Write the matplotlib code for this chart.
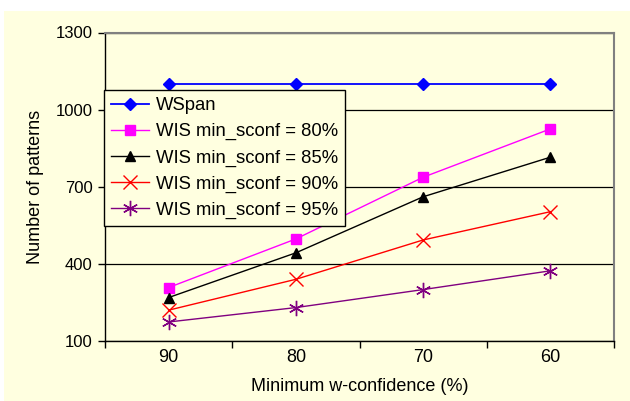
import matplotlib
matplotlib.use('Agg')
import matplotlib.pyplot as plt
from matplotlib.patches import Rectangle
import numpy as np

plt.rcParams['font.family'] = ['Liberation Sans', 'DejaVu Sans']

# Data
categories = ['90', '80', '70', '60']
wspan = [1100, 1100, 1100, 1100]
wis_80 = [308, 497, 737, 925]
wis_85 = [269, 443, 661, 815]
wis_90 = [220, 340, 493, 603]
wis_95 = [174, 230, 300, 373]

BG = '#FFFFE0'

fig = plt.figure(figsize=(6.3, 4.01), dpi=100)
fig.patch.set_facecolor('white')
# chart area background (slightly inset from image edge)
fig.patches.append(Rectangle((4 / 630, 0), 626 / 630, 390 / 401, transform=fig.transFigure,
                             facecolor=BG, edgecolor='none', zorder=-10))

ax = fig.add_axes([105 / 630, 60 / 401, 509 / 630, 308.5 / 401])
ax.set_facecolor(BG)

x = np.arange(len(categories))
ax.plot(x, wspan, color='#0000FF', marker='D', markersize=6.5, lw=1.3, label='WSpan')
ax.plot(x, wis_80, color='#FF00FF', marker='s', markersize=7, lw=1.0, label='WIS min_sconf = 80%')
ax.plot(x, wis_85, color='black', marker='^', markersize=7.5, lw=1.0, label='WIS min_sconf = 85%')
ax.plot(x, wis_90, color='#FF0000', marker='x', markersize=10, mew=1.0, lw=1.0, label='WIS min_sconf = 90%')
ax.plot(x, wis_95, color='#800080', marker=(6, 2, 0), markersize=11, mew=1.0, lw=1.0, label='WIS min_sconf = 95%')

ax.set_xlim(-0.5, len(categories) - 0.5)
ax.set_ylim(100, 1300)
ax.set_yticks([100, 400, 700, 1000, 1300])
ax.set_xticks(x)
ax.set_xticklabels(categories)
ax.set_xticks(np.arange(len(categories) + 1) - 0.5, minor=True)
ax.tick_params(axis='x', which='major', length=0, labelsize=13, pad=6)
ax.tick_params(axis='x', which='minor', length=5, width=1, direction='out')
ax.tick_params(axis='y', length=5, width=1, direction='out', labelsize=12, pad=4)

ax.yaxis.grid(True, color='black', lw=0.9)
ax.set_axisbelow(True)
for side in ['top', 'right']:
    ax.spines[side].set_color('#808080')
    ax.spines[side].set_linewidth(1.5)
for side in ['left', 'bottom']:
    ax.spines[side].set_color('black')
    ax.spines[side].set_linewidth(1.0)

ax.set_xlabel('Minimum w-confidence (%)', fontsize=13)
ax.set_ylabel('Number of patterns', fontsize=13)
ax.xaxis.set_label_coords(0.5, -0.12)
ax.yaxis.set_label_coords(-0.12, 0.5)

leg = ax.legend(loc='upper left', bbox_to_anchor=(-0.002, 0.8136), borderaxespad=0,
                fontsize=13.3, frameon=True, fancybox=False, facecolor=BG,
                edgecolor='black', framealpha=1, handlelength=2.05, labelspacing=0.48,
                handletextpad=0.35, borderpad=0.4)
leg.get_frame().set_linewidth(1.0)

fig.savefig('out.png', dpi=100, facecolor=fig.get_facecolor())
